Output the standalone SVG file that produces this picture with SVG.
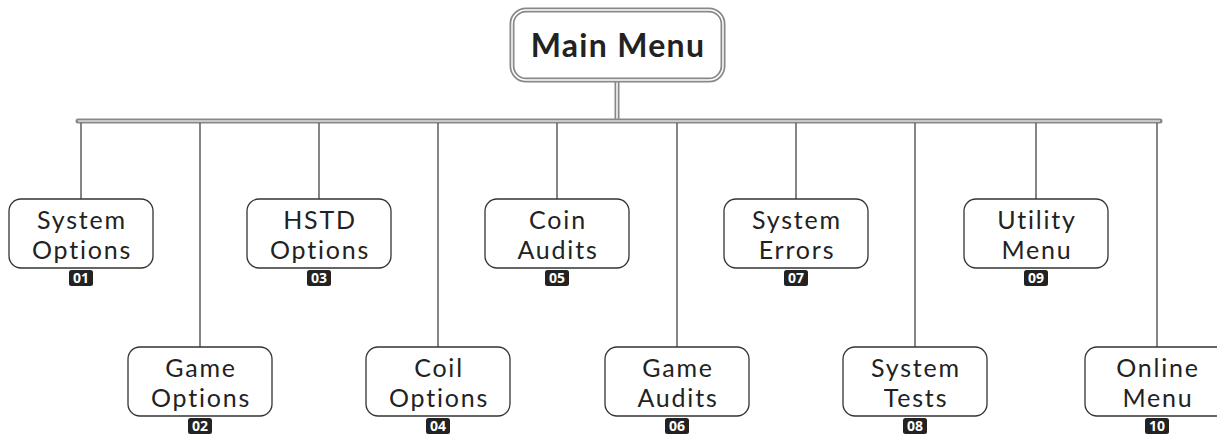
<svg xmlns="http://www.w3.org/2000/svg" width="1217" height="434" viewBox="0 0 1217 434">
<style>
.box{fill:#fff;stroke:#333;stroke-width:1.3}
.lbl{font-family:Lato,"Open Sans",sans-serif;font-size:25px;letter-spacing:1.8px;fill:#222;text-anchor:middle}
.badge{fill:#222}
.num{font-family:"Open Sans","Noto Sans",sans-serif;font-size:14px;font-weight:bold;fill:#fff;text-anchor:middle}
.drop{stroke:#444;stroke-width:1.3;fill:none}
.dbl-o{stroke:#888;fill:none}
.dbl-i{stroke:#fff;fill:none}
</style>
<rect width="1217" height="434" fill="#fff"/>
<g id="connectors">
<line class="dbl-o" x1="617" y1="80" x2="617" y2="121" stroke-width="5"/>
<line class="dbl-i" x1="617" y1="80" x2="617" y2="119" stroke-width="1.5"/>
<line class="dbl-o" x1="78" y1="121" x2="1160" y2="121" stroke-width="5" stroke-linecap="round"/>
<line x1="78" y1="121" x2="1160" y2="121" stroke="#ddd" stroke-width="1.3"/>
<line class="drop" x1="81" y1="123" x2="81" y2="199" stroke="#777"/>
<line class="drop" x1="200" y1="123" x2="200" y2="347"/>
<line class="drop" x1="319" y1="123" x2="319" y2="199"/>
<line class="drop" x1="438" y1="123" x2="438" y2="347"/>
<line class="drop" x1="557" y1="123" x2="557" y2="199"/>
<line class="drop" x1="677" y1="123" x2="677" y2="347"/>
<line class="drop" x1="796" y1="123" x2="796" y2="199"/>
<line class="drop" x1="915" y1="123" x2="915" y2="347"/>
<line class="drop" x1="1036" y1="123" x2="1036" y2="199"/>
<line class="drop" x1="1157" y1="123" x2="1157" y2="347"/>
</g>
<g id="main">
<rect x="512" y="10" width="211" height="70" rx="14" fill="#fff" stroke="#888" stroke-width="5"/>
<rect x="512" y="10" width="211" height="70" rx="14" fill="none" stroke="#fff" stroke-width="1.5"/>
<text x="618" y="57" font-family="Lato,'Open Sans',sans-serif" font-size="32" font-weight="bold" letter-spacing="1.3" fill="#222" text-anchor="middle">Main Menu</text>
</g>
<g id="n01">
<rect class="box" x="9" y="199" width="144" height="69" rx="12"/>
<text class="lbl" x="82" y="229">System</text><text class="lbl" x="82" y="259">Options</text>
<rect class="badge" x="69" y="270" width="24" height="16" rx="2.5"/><text class="num" x="81" y="283">01</text>
</g>
<g id="n02">
<rect class="box" x="128" y="347" width="144" height="69" rx="12"/>
<text class="lbl" x="201" y="377">Game</text><text class="lbl" x="201" y="407">Options</text>
<rect class="badge" x="188" y="418" width="24" height="16" rx="2.5"/><text class="num" x="200" y="431">02</text>
</g>
<g id="n03">
<rect class="box" x="247" y="199" width="144" height="69" rx="12"/>
<text class="lbl" x="320" y="229">HSTD</text><text class="lbl" x="320" y="259">Options</text>
<rect class="badge" x="307" y="270" width="24" height="16" rx="2.5"/><text class="num" x="319" y="283">03</text>
</g>
<g id="n04">
<rect class="box" x="366" y="347" width="144" height="69" rx="12"/>
<text class="lbl" x="439" y="377">Coil</text><text class="lbl" x="439" y="407">Options</text>
<rect class="badge" x="426" y="418" width="24" height="16" rx="2.5"/><text class="num" x="438" y="431">04</text>
</g>
<g id="n05">
<rect class="box" x="485" y="199" width="144" height="69" rx="12"/>
<text class="lbl" x="558" y="229">Coin</text><text class="lbl" x="558" y="259">Audits</text>
<rect class="badge" x="545" y="270" width="24" height="16" rx="2.5"/><text class="num" x="557" y="283">05</text>
</g>
<g id="n06">
<rect class="box" x="605" y="347" width="144" height="69" rx="12"/>
<text class="lbl" x="678" y="377">Game</text><text class="lbl" x="678" y="407">Audits</text>
<rect class="badge" x="665" y="418" width="24" height="16" rx="2.5"/><text class="num" x="677" y="431">06</text>
</g>
<g id="n07">
<rect class="box" x="724" y="199" width="144" height="69" rx="12"/>
<text class="lbl" x="797" y="229">System</text><text class="lbl" x="797" y="259">Errors</text>
<rect class="badge" x="784" y="270" width="24" height="16" rx="2.5"/><text class="num" x="796" y="283">07</text>
</g>
<g id="n08">
<rect class="box" x="843" y="347" width="144" height="69" rx="12"/>
<text class="lbl" x="916" y="377">System</text><text class="lbl" x="916" y="407">Tests</text>
<rect class="badge" x="903" y="418" width="24" height="16" rx="2.5"/><text class="num" x="915" y="431">08</text>
</g>
<g id="n09">
<rect class="box" x="964" y="199" width="144" height="69" rx="12"/>
<text class="lbl" x="1037" y="229">Utility</text><text class="lbl" x="1037" y="259">Menu</text>
<rect class="badge" x="1024" y="270" width="24" height="16" rx="2.5"/><text class="num" x="1036" y="283">09</text>
</g>
<g id="n10">
<rect class="box" x="1085" y="347" width="144" height="69" rx="12"/>
<text class="lbl" x="1158" y="377">Online</text><text class="lbl" x="1158" y="407">Menu</text>
<rect class="badge" x="1145" y="418" width="24" height="16" rx="2.5"/><text class="num" x="1157" y="431">10</text>
</g>
</svg>
